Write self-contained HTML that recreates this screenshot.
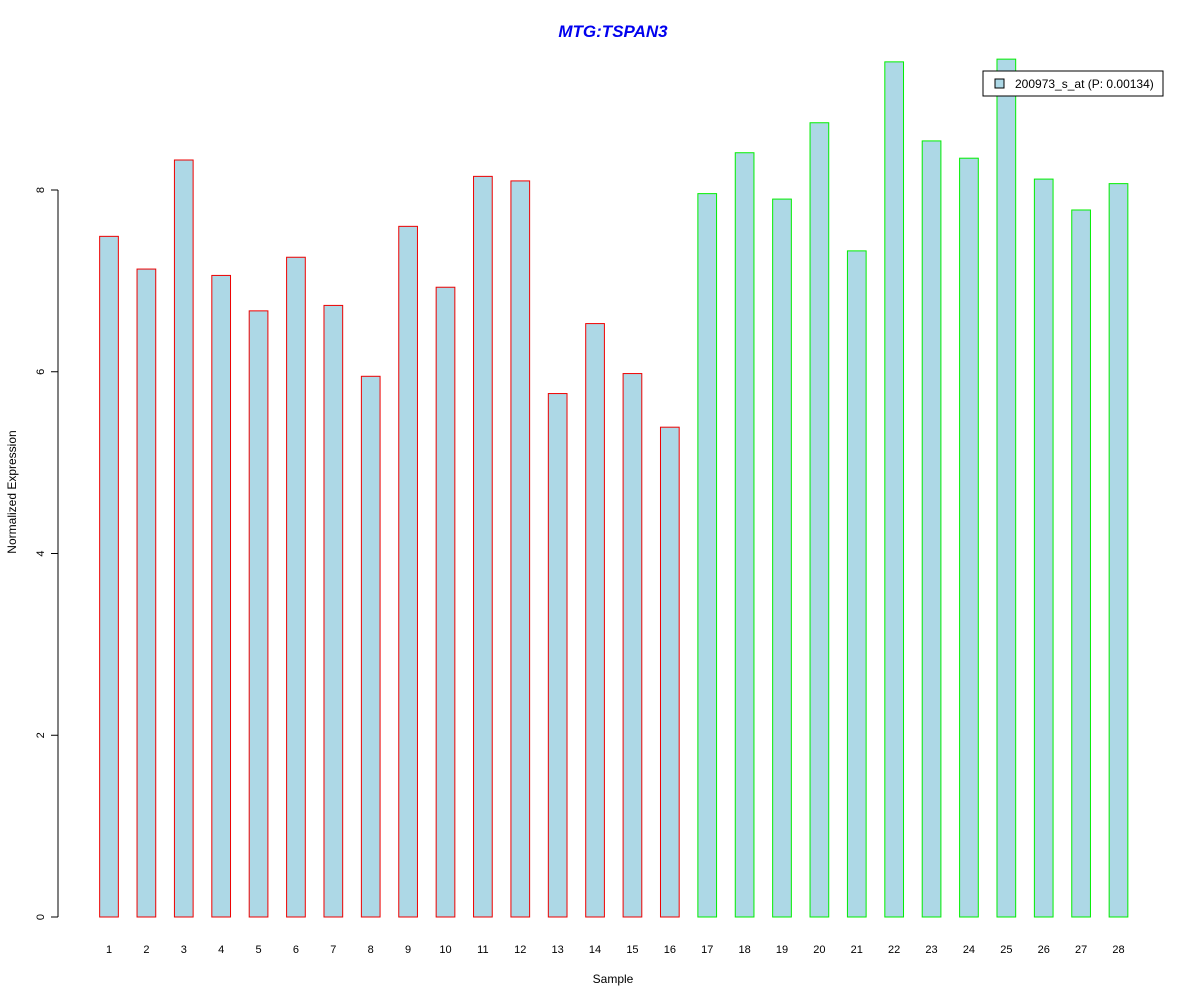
<!DOCTYPE html>
<html><head><meta charset="utf-8"><style>
body{margin:0;background:#fff}
svg{font-family:"Liberation Sans",Arial,sans-serif}
</style></head><body>
<svg id="chart" width="1200" height="1000" xmlns="http://www.w3.org/2000/svg">
<text x="613" y="37" text-anchor="middle" font-size="17" font-weight="bold" font-style="italic" fill="#0000ee">MTG:TSPAN3</text>
<text x="613" y="983" text-anchor="middle" font-size="12">Sample</text>
<text x="16" y="492" text-anchor="middle" font-size="12" transform="rotate(-90 16 492)">Normalized Expression</text>
<g id="bars"></g>
<g id="yaxis"></g>
<g id="xlabels"></g>
<g>
<rect x="983" y="71" width="180" height="25" fill="#fff" stroke="#000"/>
<rect x="995" y="79" width="9" height="9" fill="#add8e6" stroke="#000"/>
<text x="1015" y="88" font-size="12">200973_s_at (P: 0.00134)</text>
</g>
</svg>
<script>
const categories=["1","2","3","4","5","6","7","8","9","10","11","12","13","14","15","16","17","18","19","20","21","22","23","24","25","26","27","28"];
const values=[7.49,7.13,8.33,7.06,6.67,7.26,6.73,5.95,7.60,6.93,8.15,8.10,5.76,6.53,5.98,5.39,7.96,8.41,7.90,8.74,7.33,9.41,8.54,8.35,9.44,8.12,7.78,8.07];
const groups=["r","r","r","r","r","r","r","r","r","r","r","r","r","r","r","r","g","g","g","g","g","g","g","g","g","g","g","g"];
const yTicks=[0,2,4,6,8];
const NS="http://www.w3.org/2000/svg";
const y0=917,ppu=90.875,x1=109,step=(1118.5-109)/27,bw=18.7;
const yS=v=>y0-v*ppu, xS=i=>x1+i*step;
function mk(t,a,p){const e=document.createElementNS(NS,t);for(const k in a)e.setAttribute(k,a[k]);p.appendChild(e);return e;}
const bars=document.getElementById('bars');
values.forEach((v,i)=>{
 const r=mk('rect',{x:xS(i)-bw/2,y:yS(v),width:bw,height:v*ppu,fill:'#add8e6',stroke:groups[i]==='r'?'#ee0000':'#00ee00'},bars);
 
 
});
const xl=document.getElementById('xlabels');
categories.forEach((c,i)=>{const t=mk('text',{x:xS(i),y:953,'text-anchor':'middle','font-size':11},xl);t.textContent=c;});
const ya=document.getElementById('yaxis');
mk('line',{x1:58,x2:58,y1:yS(0),y2:yS(8),stroke:'#000'},ya);
yTicks.forEach(v=>{mk('line',{x1:51,x2:58,y1:yS(v),y2:yS(v),stroke:'#000'},ya);
 const t=mk('text',{x:44,y:yS(v),'text-anchor':'middle','font-size':11,transform:`rotate(-90 44 ${yS(v)})`},ya);t.textContent=v;});
</script>
</body></html>
